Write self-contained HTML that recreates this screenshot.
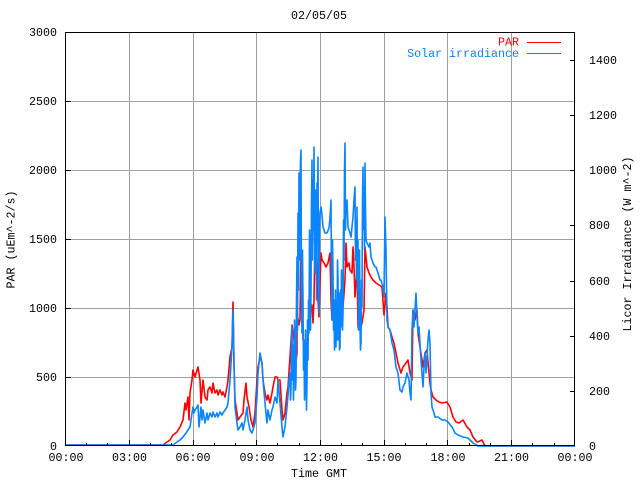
<!DOCTYPE html>
<html>
<head>
<meta charset="utf-8">
<style>
html,body{margin:0;padding:0;background:#fff;}
svg{display:block;}
text{font-family:"Liberation Mono",monospace;font-size:11.67px;fill:#000;}
</style>
</head>
<body>
<svg width="640" height="480" viewBox="0 0 640 480" xmlns="http://www.w3.org/2000/svg">
<rect x="0" y="0" width="640" height="480" fill="#fff"/>
<!-- grid -->
<g stroke="#a0a0a0" stroke-width="1" shape-rendering="crispEdges">
<line x1="129.5" y1="32" x2="129.5" y2="446"/>
<line x1="193.5" y1="32" x2="193.5" y2="446"/>
<line x1="256.5" y1="32" x2="256.5" y2="446"/>
<line x1="320.5" y1="32" x2="320.5" y2="446"/>
<line x1="384.5" y1="32" x2="384.5" y2="446"/>
<line x1="447.5" y1="32" x2="447.5" y2="446"/>
<line x1="511.5" y1="32" x2="511.5" y2="446"/>
<line x1="65" y1="377.5" x2="575" y2="377.5"/>
<line x1="65" y1="308.5" x2="575" y2="308.5"/>
<line x1="65" y1="239.5" x2="575" y2="239.5"/>
<line x1="65" y1="170.5" x2="575" y2="170.5"/>
<line x1="65" y1="101.5" x2="575" y2="101.5"/>
</g>
<!-- data -->
<g fill="none" stroke-width="1.6" stroke-linejoin="round">
<polyline stroke="#ff0000" points="65,445 163,445 167,442 170,440 173,435 177,432 180,427 183,420 185,403 186,410 188,397 189,420 190,393 192,380 193,370 195,377 197,370 198,367 200,380 201,403 203,380 205,397 207,400 208,390 210,387 212,393 213,383 215,393 217,390 218,395 220,390 222,395 223,392 225,397 227,387 228,380 230,357 232,347 233,302 234,363 235,400 237,413 238,420 240,417 243,413 244,400 246,383 247,397 249,407 251,420 253,427 255,413 257,380 258,367 260,357 262,363 263,380 265,393 267,400 268,395 270,403 272,393 273,387 275,377 277,377 278,380 280,380 282,410 283,420 285,413 287,393 288,387 290,357 292,325 294,340 295,370 297,353 297,313 299,325 300,320 301,250 302,290 303,340 304,343 306,370 307,350 308,343 310,290 311,310 312,305 313,323 314,300 315,237 316,250 317,260 318,300 319,317 320,283 321,253 322,260 324,263 326,267 328,263 330,253 331,300 332,320 334,310 335,327 337,327 339,333 340,327 342,310 343,307 345,280 346,243 347,267 349,263 350,270 352,273 353,247 354,267 355,297 357,267 358,327 360,330 362,323 364,310 365,247 367,267 369,273 371,277 373,280 376,283 379,285 382,287 384,315 385,305 386,293 387,307 388,327 390,330 392,337 394,343 396,353 398,363 401,373 403,367 406,363 408,360 410,373 412,380 413,310 415,320 417,310 418,333 420,347 422,360 423,367 425,353 427,350 428,363 430,383 431,390 433,397 436,400 439,402 442,403 447,402 450,407 453,417 456,422 459,423 463,420 467,427 470,430 473,437 477,442 480,441 482,440 485,446 575,446"/>
<polyline stroke="#0a84ff" points="65,445 173,445 177,442 180,440 183,437 186,433 188,430 190,427 192,413 193,407 194,413 195,410 197,407 198,405 199,427 201,407 202,420 203,410 205,423 207,413 208,420 210,413 212,417 213,412 215,417 217,413 218,417 220,412 222,415 223,413 225,410 227,407 228,403 230,380 232,347 233,310 234,363 235,407 237,423 238,430 240,427 242,423 243,430 245,420 247,407 248,420 250,430 252,433 253,430 255,423 257,397 258,373 260,353 262,363 263,380 265,403 267,423 268,410 270,420 272,410 273,407 275,397 277,403 278,380 280,403 282,427 283,437 285,427 287,407 288,395 289,380 290,373 290.5,400 291,390 291.5,340 292,327 292.5,380 293,345 293.5,400 294,367 294.5,320 295,340 295.5,390 296,380 296.5,300 297,257 297.5,330 298,213 298.5,290 299,173 299.5,260 300,200 300.5,160 301,150 301.5,300 302,333 302.5,250 303,300 303.5,370 304,340 304.5,400 305,387 305.5,330 306,360 306.5,410 307,380 307.5,320 308,360 308.5,300 309,333 309.5,230 310,253 310.5,330 311,293 311.5,200 312,160 312.5,260 313,180 313.5,230 314,147 314.5,240 315,273 315.5,190 316,220 316.5,300 317,183 317.5,207 318,157 318.5,260 319,313 319.5,230 320,213 321,207 322,215 323,227 325,233 327,233 329,228 330,218 331,200 331.5,280 332,320 332.5,240 333,273 333.5,330 334,300 334.5,350 335,327 335.5,290 336,347 336.5,300 337,340 337.5,260 338,280 338.5,340 339,293 339.5,350 340,347 340.5,290 341,327 341.5,270 342,290 342.5,330 343,313 343.5,220 344,260 344.5,170 345,143 345.5,230 346,207 347,200 348,227 350,233 351,237 353,217 354,200 355,187 355.5,260 356,220 356.5,280 357,207 357.5,290 358,240 358.5,330 359,307 359.5,250 360,327 360.5,350 361,343 361.5,280 362,307 362.5,200 363,167 363.5,230 364,187 364.5,250 365,163 365.5,210 366,240 367,243 369,247 370,243 371,257 372,260 373,263 375,267 376,267 378,273 380,280 381,280 383,287 384,297 385,217 386,250 387,320 388,327 390,330 392,343 394,350 396,367 398,373 400,390 402,392 403,387 405,383 407,373 409,380 410,393 411,400 412,330 413,310 414,327 416,293 417,317 418,333 419,327 421,360 423,387 424,367 425,353 426,373 428,340 429,330 430,343 431,393 432,407 434,413 435,417 438,417 442,420 445,420 448,422 452,427 455,433 458,435 463,437 468,438 473,443 478,446 575,446"/>
</g>
<!-- frame -->
<rect x="65.5" y="32.5" width="509" height="413" fill="none" stroke="#000" stroke-width="1" shape-rendering="crispEdges"/>
<!-- ticks -->
<g stroke="#000" stroke-width="1" shape-rendering="crispEdges">
<line x1="65" y1="377.5" x2="71" y2="377.5"/>
<line x1="65" y1="308.5" x2="71" y2="308.5"/>
<line x1="65" y1="239.5" x2="71" y2="239.5"/>
<line x1="65" y1="170.5" x2="71" y2="170.5"/>
<line x1="65" y1="101.5" x2="71" y2="101.5"/>
<line x1="570" y1="391.5" x2="575" y2="391.5"/>
<line x1="570" y1="336.5" x2="575" y2="336.5"/>
<line x1="570" y1="281.5" x2="575" y2="281.5"/>
<line x1="570" y1="225.5" x2="575" y2="225.5"/>
<line x1="570" y1="170.5" x2="575" y2="170.5"/>
<line x1="570" y1="115.5" x2="575" y2="115.5"/>
<line x1="570" y1="60.5" x2="575" y2="60.5"/>
<line x1="129.5" y1="440" x2="129.5" y2="446"/>
<line x1="193.5" y1="440" x2="193.5" y2="446"/>
<line x1="256.5" y1="440" x2="256.5" y2="446"/>
<line x1="320.5" y1="440" x2="320.5" y2="446"/>
<line x1="384.5" y1="440" x2="384.5" y2="446"/>
<line x1="447.5" y1="440" x2="447.5" y2="446"/>
<line x1="511.5" y1="440" x2="511.5" y2="446"/>
<line x1="86.5" y1="443" x2="86.5" y2="446"/>
<line x1="107.5" y1="443" x2="107.5" y2="446"/>
<line x1="150.5" y1="443" x2="150.5" y2="446"/>
<line x1="171.5" y1="443" x2="171.5" y2="446"/>
<line x1="214.5" y1="443" x2="214.5" y2="446"/>
<line x1="235.5" y1="443" x2="235.5" y2="446"/>
<line x1="277.5" y1="443" x2="277.5" y2="446"/>
<line x1="299.5" y1="443" x2="299.5" y2="446"/>
<line x1="341.5" y1="443" x2="341.5" y2="446"/>
<line x1="362.5" y1="443" x2="362.5" y2="446"/>
<line x1="405.5" y1="443" x2="405.5" y2="446"/>
<line x1="426.5" y1="443" x2="426.5" y2="446"/>
<line x1="469.5" y1="443" x2="469.5" y2="446"/>
<line x1="490.5" y1="443" x2="490.5" y2="446"/>
<line x1="532.5" y1="443" x2="532.5" y2="446"/>
<line x1="554.5" y1="443" x2="554.5" y2="446"/>
</g>
<!-- left labels -->
<g text-anchor="end">
<text x="57" y="36">3000</text>
<text x="57" y="105">2500</text>
<text x="57" y="174">2000</text>
<text x="57" y="243">1500</text>
<text x="57" y="312">1000</text>
<text x="57" y="381">500</text>
<text x="57" y="450">0</text>
</g>
<!-- right labels -->
<g text-anchor="start">
<text x="589" y="64">1400</text>
<text x="589" y="119">1200</text>
<text x="589" y="174">1000</text>
<text x="589" y="229">800</text>
<text x="589" y="285">600</text>
<text x="589" y="340">400</text>
<text x="589" y="395">200</text>
<text x="589" y="450">0</text>
</g>
<!-- bottom labels -->
<g text-anchor="middle">
<text x="66" y="461">00:00</text>
<text x="129.5" y="461">03:00</text>
<text x="193" y="461">06:00</text>
<text x="257" y="461">09:00</text>
<text x="320.5" y="461">12:00</text>
<text x="384" y="461">15:00</text>
<text x="448" y="461">18:00</text>
<text x="511.5" y="461">21:00</text>
<text x="575" y="461">00:00</text>
<text x="319" y="477">Time GMT</text>
<text x="319" y="19">02/05/05</text>
</g>
<!-- axis titles -->
<text text-anchor="middle" transform="translate(10.5,239.5) rotate(-90)" x="0" y="4">PAR (uEm^-2/s)</text>
<text text-anchor="middle" transform="translate(627,244) rotate(-90)" x="0" y="4">Licor Irradiance (W m^-2)</text>
<!-- legend -->
<text x="519" y="45.5" text-anchor="end" style="fill:#ff0000">PAR</text>
<line x1="527" y1="42.5" x2="561" y2="42.5" stroke="#ff0000" stroke-width="1" shape-rendering="crispEdges"/>
<text x="519" y="57" text-anchor="end" style="fill:#0a84ff">Solar irradiance</text>
<line x1="527" y1="53.5" x2="561" y2="53.5" stroke="#0a84ff" stroke-width="1" shape-rendering="crispEdges"/>
</svg>
</body>
</html>
